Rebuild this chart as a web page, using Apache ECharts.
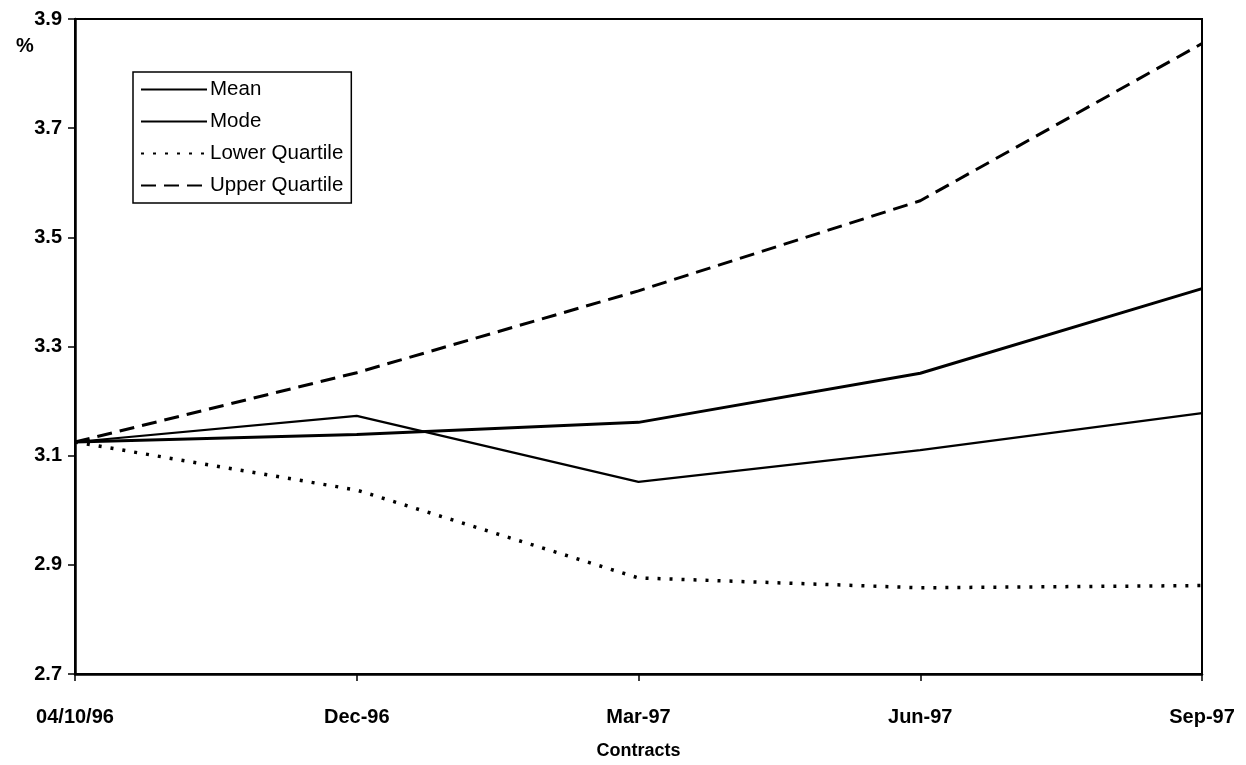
<!DOCTYPE html>
<html>
<head>
<meta charset="utf-8">
<script src="https://cdn.jsdelivr.net/npm/echarts@6/dist/echarts.min.js"></script>
<style>
html,body{margin:0;padding:0;background:#fff;}
#chart{width:1246px;height:765px;}
</style>
</head>
<body>
<div id="chart"></div>
<script>
const categories = ['04/10/96', 'Dec-96', 'Mar-97', 'Jun-97', 'Sep-97'];
const meanValues = [3.125, 3.139, 3.161, 3.251, 3.406];
const modeValues = [3.125, 3.173, 3.052, 3.110, 3.178];
const lowerQuartile = [3.125, 3.037, 2.876, 2.858, 2.862];
const upperQuartile = [3.125, 3.252, 3.402, 3.567, 3.855];
const yTicks = { min: 2.7, max: 3.9, interval: 0.2 };

const FONT = 'Liberation Sans, Arial, sans-serif';
const chart = echarts.init(document.getElementById('chart'), null, { renderer: 'canvas' });

function lineSeries(name, data, width, type) {
  return {
    name: name,
    type: 'line',
    data: data,
    symbol: 'none',
    showSymbol: false,
    smooth: false,
    animation: false,
    lineStyle: { color: '#000', width: width, type: type, cap: 'butt' },
    itemStyle: { color: '#000' }
  };
}

chart.setOption({
  backgroundColor: '#fff',
  animation: false,
  title: {
    text: '%',
    left: 11,
    top: 31,
    textStyle: { fontFamily: FONT, fontSize: 20, fontWeight: 'bold', color: '#000' }
  },
  grid: {
    left: 75, right: 44, top: 19, bottom: 80,
    show: true, borderColor: '#000', borderWidth: 2, backgroundColor: 'transparent'
  },
  legend: {
    orient: 'vertical',
    left: 133,
    top: 72,
    padding: [7, 8, 7, 7],
    itemGap: 11,
    itemWidth: 66,
    itemHeight: 14,
    borderColor: '#000',
    borderWidth: 1.5,
    backgroundColor: '#fff',
    selectedMode: false,
    itemStyle: { opacity: 0, borderWidth: 0 },
    textStyle: { fontFamily: FONT, fontSize: 20.5, color: '#000', padding: [0, 0, 0, -2] },
    data: ['Mean', 'Mode', 'Lower Quartile', 'Upper Quartile']
  },
  xAxis: {
    type: 'category',
    data: categories,
    boundaryGap: false,
    axisLine: { show: true, lineStyle: { color: '#000', width: 2.5 } },
    axisTick: { show: true, alignWithLabel: true, length: 7, lineStyle: { color: '#000', width: 1.5 } },
    axisLabel: { fontFamily: FONT, fontSize: 20, fontWeight: 'bold', color: '#000', margin: 33 },
    splitLine: { show: false },
    name: 'Contracts',
    nameLocation: 'middle',
    nameGap: 68,
    nameTextStyle: { fontFamily: FONT, fontSize: 18, fontWeight: 'bold', color: '#000' }
  },
  yAxis: {
    type: 'value',
    min: yTicks.min,
    max: yTicks.max,
    interval: yTicks.interval,
    axisLine: { show: true, lineStyle: { color: '#000', width: 2.5 } },
    axisTick: { show: true, length: 7, lineStyle: { color: '#000', width: 1.5 } },
    axisLabel: {
      fontFamily: FONT, fontSize: 20, fontWeight: 'bold', color: '#000', margin: 13,
      formatter: function (v) { return v.toFixed(1); }
    },
    splitLine: { show: false }
  },
  series: [
    lineSeries('Mean', meanValues, 3, 'solid'),
    lineSeries('Mode', modeValues, 2.2, 'solid'),
    lineSeries('Lower Quartile', lowerQuartile, 3.5, [3, 9]),
    lineSeries('Upper Quartile', upperQuartile, 3, [15, 8])
  ]
});
</script>
</body>
</html>
